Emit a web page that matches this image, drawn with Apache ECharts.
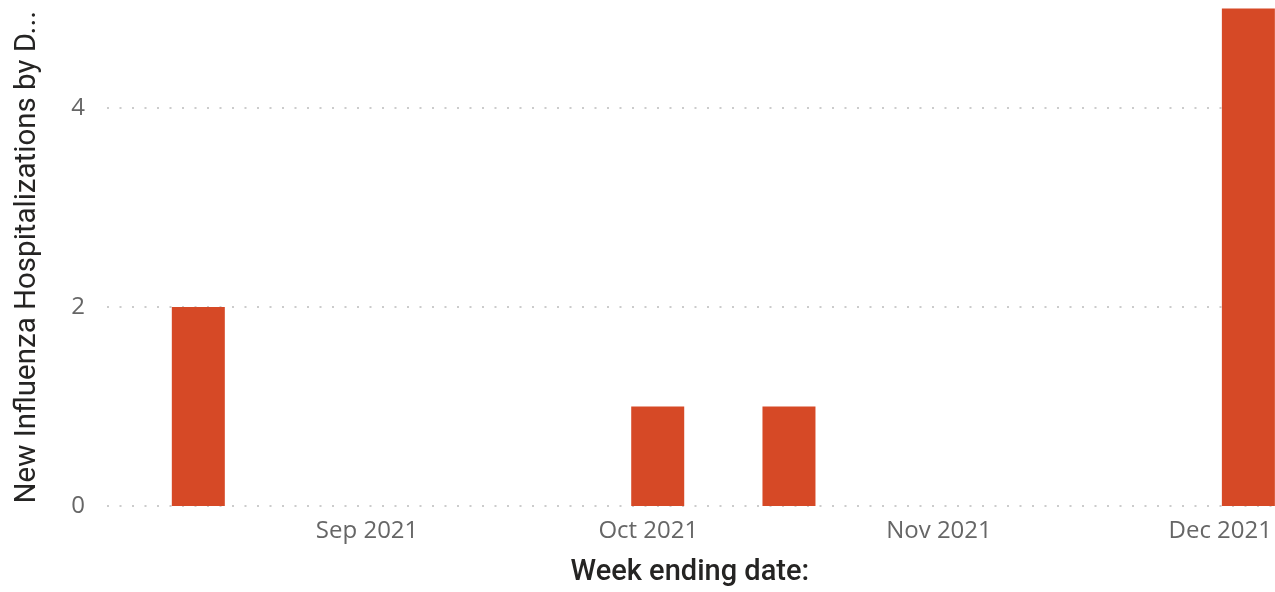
<!DOCTYPE html>
<html>
<head>
<meta charset="utf-8">
<style>
  html, body { margin: 0; padding: 0; background: #ffffff; overflow: hidden; }
  #chart { width: 1275px; height: 592px; }
</style>
<script src="https://cdn.jsdelivr.net/npm/echarts@6/dist/echarts.min.js"></script>
</head>
<body>
<div id="chart"></div>
<script>
// Week ending dates (Saturdays)
const weekEnding = [
  '2021-08-14', '2021-08-21', '2021-08-28', '2021-09-04', '2021-09-11',
  '2021-09-18', '2021-09-25', '2021-10-02', '2021-10-09', '2021-10-16',
  '2021-10-23', '2021-10-30', '2021-11-06', '2021-11-13', '2021-11-20',
  '2021-11-27', '2021-12-04'
];
// New influenza hospitalizations
const hospitalizations = [2, 0, 0, 0, 0, 0, 0, 1, 0, 1, 0, 0, 0, 0, 0, 0, 5];
// Month tick labels
const monthTicks = ['2021-09-01', '2021-10-01', '2021-11-01', '2021-12-01'];
const yTicks = [0, 2, 4];

function localDate(s) {
  const p = s.split('-').map(Number);
  return new Date(p[0], p[1] - 1, p[2]).getTime();
}
const DAY = 86400000;
const xMin = localDate(weekEnding[0]) - 9.74 * DAY;
const xMax = localDate(weekEnding[weekEnding.length - 1]) + 2.6 * DAY;

const seriesData = weekEnding.map((d, i) => [localDate(d), hospitalizations[i]]);
const monthTickValues = monthTicks.map(localDate);
const MONTHS = ['Jan','Feb','Mar','Apr','May','Jun','Jul','Aug','Sep','Oct','Nov','Dec'];

const chart = echarts.init(document.getElementById('chart'), null, { renderer: 'canvas', width: 1275, height: 592 });
chart.setOption({
  animation: false,
  grid: { left: 107, right: 0, top: 8.5, bottom: 81, containLabel: false },
  xAxis: {
    type: 'value',
    min: xMin,
    max: xMax,
    name: 'Week ending date:',
    nameLocation: 'middle',
    nameGap: 52,
    nameTextStyle: { fontFamily: 'Roboto', fontSize: 29, fontWeight: 500, color: '#252423' },
    axisLine: { show: false },
    axisTick: { show: false, customValues: monthTickValues },
    splitLine: { show: false },
    axisLabel: {
      customValues: monthTickValues,
      margin: 13,
      fontFamily: 'Open Sans',
      fontSize: 24,
      color: '#666666',
      formatter: function (v) {
        const d = new Date(v);
        return MONTHS[d.getMonth()] + ' ' + d.getFullYear();
      }
    }
  },
  yAxis: {
    type: 'value',
    min: 0,
    max: 5,
    name: 'New Influenza Hospitalizations by D...',
    nameLocation: 'middle',
    nameGap: 64,
    nameRotate: 90,
    nameTextStyle: { fontFamily: 'Roboto', fontSize: 29.5, color: '#252423' },
    axisLine: { show: false },
    axisTick: { show: false, customValues: yTicks },
    axisLabel: {
      customValues: yTicks,
      margin: 22,
      fontFamily: 'Open Sans',
      fontSize: 24,
      color: '#666666'
    },
    splitLine: {
      show: true,
      lineStyle: { color: '#cccccc', width: 2, type: [2, 10.5] }
    }
  },
  series: [{
    type: 'bar',
    data: seriesData,
    barWidth: 53,
    itemStyle: { color: '#D64926' }
  }]
});
</script>
</body>
</html>
